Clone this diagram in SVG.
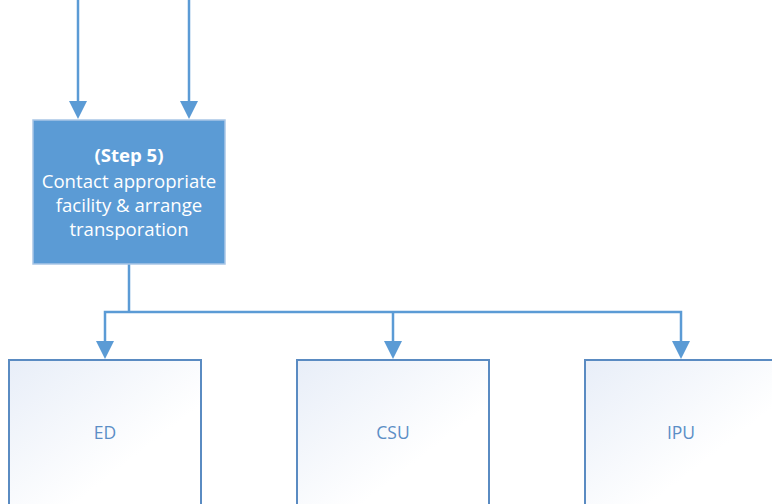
<svg xmlns="http://www.w3.org/2000/svg" width="772" height="504" viewBox="0 0 772 504">
<style>
.conn{fill:none;stroke:#5B9BD5;stroke-width:2.5}
.wt{font-family:"Open Sans","Liberation Sans",sans-serif;font-size:18.6px;fill:#FFFFFF;text-anchor:middle}
.bt{font-family:"Open Sans","Liberation Sans",sans-serif;font-size:17.5px;fill:#5B8EC6;text-anchor:middle}
.box{fill:url(#g);stroke:#5A8BC2;stroke-width:2}
</style>
<defs>
<linearGradient id="g" x1="0" y1="0" x2="1" y2="1">
<stop offset="0" stop-color="#E8EEF8"/>
<stop offset="0.65" stop-color="#FFFFFF"/>
<stop offset="1" stop-color="#FFFFFF"/>
</linearGradient>
</defs>
<g id="connectors">
<line class="conn" x1="78" y1="0" x2="78" y2="101"/>
<path d="M69,101 L87,101 L78,119 Z" fill="#5B9BD5"/>
<line class="conn" x1="189" y1="0" x2="189" y2="101"/>
<path d="M180,101 L198,101 L189,119 Z" fill="#5B9BD5"/>
<polyline class="conn" points="129,264 129,312"/>
<polyline class="conn" points="105,341 105,312 681,312 681,341"/>
<line class="conn" x1="393" y1="312" x2="393" y2="341"/>
<path d="M96,341 L114,341 L105,359 Z" fill="#5B9BD5"/>
<path d="M384,341 L402,341 L393,359 Z" fill="#5B9BD5"/>
<path d="M672,341 L690,341 L681,359 Z" fill="#5B9BD5"/>
</g>
<g id="step5">
<rect x="33" y="120" width="192" height="144" fill="#5B9BD5" stroke="#A9C6E6" stroke-width="1.5"/>
<text class="wt" x="129" y="162" font-weight="bold">(Step 5)</text>
<text class="wt" x="129" y="188">Contact appropriate</text>
<text class="wt" x="129" y="212">facility &amp; arrange</text>
<text class="wt" x="129" y="236">transporation</text>
</g>
<g id="ed">
<rect class="box" x="9" y="360" width="192" height="150"/>
<text class="bt" x="105" y="439">ED</text>
</g>
<g id="csu">
<rect class="box" x="297" y="360" width="192" height="150"/>
<text class="bt" x="393" y="439">CSU</text>
</g>
<g id="ipu">
<rect class="box" x="585" y="360" width="192" height="150"/>
<text class="bt" x="681" y="439">IPU</text>
</g>
</svg>
